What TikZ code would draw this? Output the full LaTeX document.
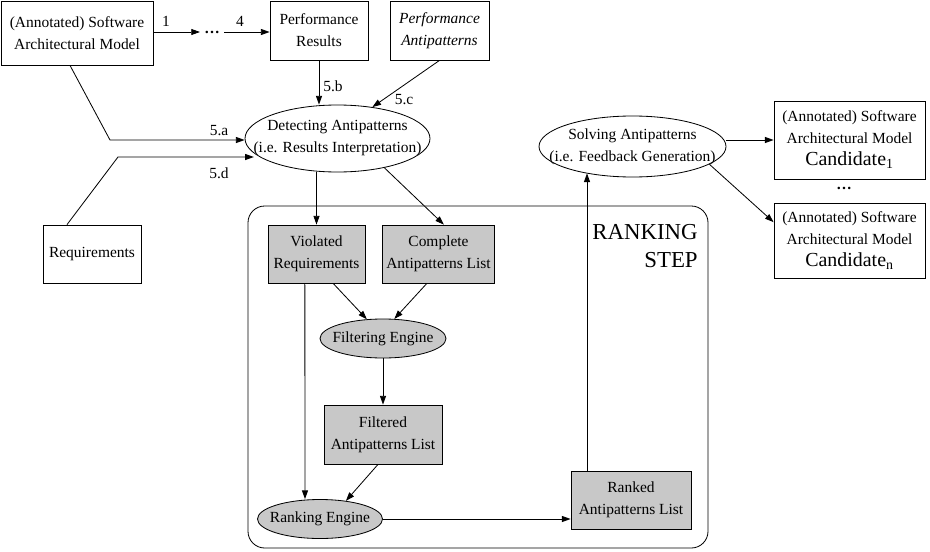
\documentclass[tikz,border=0pt]{standalone}
\usepackage{fontspec}
\setmainfont{Liberation Serif}
\usetikzlibrary{shapes.geometric, arrows.meta}

\definecolor{boxgray}{RGB}{200,200,200}

\begin{document}
\begin{tikzpicture}[
    x=0.3cm, y=-0.3cm,
    font=\fontsize{13.2}{18.8}\selectfont,
    >={Triangle[length=2.6mm, width=1.8mm]},
    line width=0.7pt,
    box/.style={rectangle, draw, align=center, fill=white},
    gbox/.style={box, fill=boxgray},
    ell/.style={ellipse, draw, inner sep=0pt, fill=white},
    gell/.style={ell, fill=boxgray},
    lbl/.style={inner sep=1pt}
]

\useasboundingbox (0,0) rectangle (93,55.1);

% ================= Ranking step frame =================

\node[draw, rounded corners=5mm, minimum width=138mm, minimum height=102.6mm] (rank) at (47.8,37.7) {};
\node[align=right, anchor=east, font=\fontsize{19.5}{23.9}\selectfont] (rstext) at (70.2,24.6) {RANKING\\STEP};

% ================= Inputs =================

\node[box, minimum width=45.6mm, minimum height=19.2mm] (sam) at (7.7,3.3) {(Annotated) Software\\Architectural Model};
\node (dots) at (21.2,3.2) {\textbf{\ldots}};
\node[box, minimum width=29.4mm, minimum height=17.7mm] (pr) at (31.9,3.05) {Performance\\Results};
\node[box, minimum width=29.7mm, minimum height=17.7mm] (pa) at (43.95,3.05) {\textit{Performance}\\\textit{Antipatterns}};
\node[box, minimum width=29.4mm, minimum height=17.4mm] (req) at (9.2,25.4) {Requirements};

\node[ell, minimum width=55.5mm, minimum height=20.1mm,
    label={[align=center]center:Detecting Antipatterns\\(i.e. Results Interpretation)}] (det) at (33.75,13.85) {};

\coordinate (abend) at (11.0,14.0);
\coordinate (dbend) at (11.8,15.7);

\draw[->] (sam.east |- dots) -- (dots);
\draw[->] (dots) -- (dots -| pr.west);
\draw[->] (pr.south) -- (pr.south |- det.north);
\draw[->] (pa.south) -- (det.42);
\draw[->] ([xshift=-2.1mm]sam.south) -- (abend) -- (abend -| det.west);
\draw[->] ([xshift=-7.5mm]req.north) -- (dbend) -- (dbend -| det.190);

\node[lbl] (l1) at (16.6,2.1) {1};
\node[lbl] (l4) at (24.0,2.1) {4};
\node[lbl] (l5b) at (33.3,8.6) {5.b};
\node[lbl] (l5c) at (40.4,10.0) {5.c};
\node[lbl] (l5a) at (21.9,13.1) {5.a};
\node[lbl] (l5d) at (21.9,17.3) {5.d};

% ================= Ranking =================

\node[gbox, minimum width=29.1mm, minimum height=17.4mm] (vr) at (31.65,25.4) {Violated\\Requirements};
\node[gbox, minimum width=29.7mm, minimum height=17.4mm] (cal) at (43.85,25.4) {Complete\\Antipatterns List};
\node[gell, minimum width=37.8mm, minimum height=11.7mm,
    label={center:Filtering Engine}] (fe) at (38.3,33.85) {};
\node[gbox, minimum width=35.4mm, minimum height=17.7mm] (fal) at (38.3,43.45) {Filtered\\Antipatterns List};
\node[gell, minimum width=37.5mm, minimum height=11.7mm,
    label={center:Ranking Engine}] (re) at (32.0,51.9) {};
\node[gbox, minimum width=36mm, minimum height=17.4mm] (ral) at (63.1,50.0) {Ranked\\Antipatterns List};

\draw[->] (det.south -| vr.north) -- (vr.north);
\draw[->] (det.-32) -- ([xshift=1.6mm]cal.north);
\draw[->] ([xshift=5mm]vr.south) -- (fe.130);
\draw[->] ([xshift=-3.5mm]cal.south) -- (fe.60);
\draw[->] (fe.south) -- (fal.north);
\draw[->] ([xshift=-3.5mm]vr.south) -- ([xshift=-4.5mm]re.north);
\draw[->] ([xshift=-1.5mm]fal.south) -- (re.35);
\draw[->] (re.east) -- (re.east -| ral.west);

% ================= Solving =================

\node[ell, minimum width=56.1mm, minimum height=18.3mm,
    label={[align=center]center:Solving Antipatterns\\(i.e. Feedback Generation)}] (sa) at (63.25,14.65) {};
\node[box, minimum width=45.3mm, minimum height=23.4mm] (c1) at (84.95,14.0)
    {(Annotated) Software\\Architectural Model\\{\fontsize{17}{20}\selectfont Candidate\textsubscript{1}}};
\node (cdots) at (84.4,18.8) {\textbf{\ldots}};
\node[box, minimum width=45.3mm, minimum height=22.5mm] (cn) at (84.95,24.05)
    {(Annotated) Software\\Architectural Model\\{\fontsize{17}{20}\selectfont Candidate\textsubscript{n}}};

\draw[->] ([xshift=-13.2mm]ral.north) -- ([xshift=-13.2mm]ral.north |- sa.-150);
\draw[->] (c1.west -| sa.east) -- (c1.west);
\draw[->] (sa.-13) -- ([yshift=5.5mm]cn.west);

\end{tikzpicture}
\end{document}
